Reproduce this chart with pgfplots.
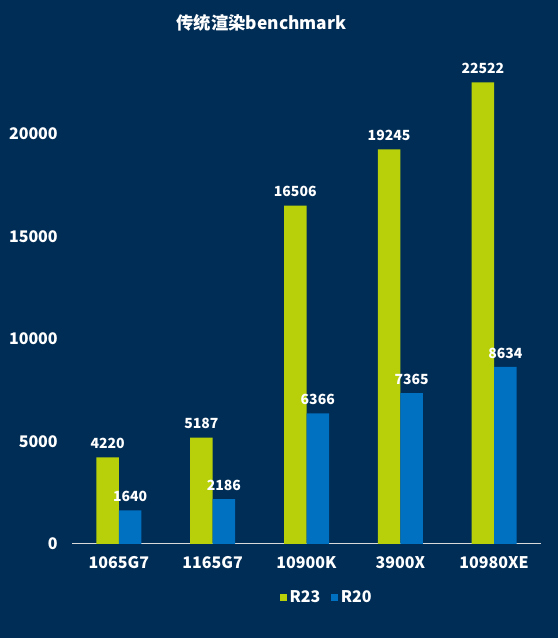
\documentclass[border=0pt]{standalone}
\usepackage{fontspec}
\setmainfont{Noto Sans CJK SC}
\usepackage{pgfplots}
\pgfplotsset{compat=1.18}

\definecolor{bgc}{RGB}{0,45,86}
\definecolor{rgreen}{RGB}{183,208,10}
\definecolor{rblue}{RGB}{0,112,192}
\definecolor{axgray}{RGB}{217,217,217}

\begin{document}
\begin{tikzpicture}
  % 1px = 0.75pt, page 558x638 px
  \path[use as bounding box, fill=bgc] (0,0) rectangle (418.5pt,478.5pt);
  \node[text=white, font=\fontsize{13}{16}\selectfont\bfseries] at (196.1pt,461.25pt) {传统渲染benchmark};
  \begin{axis}[
      at={(54pt,70.5pt)}, anchor=south west,
      scale only axis,
      width=351.75pt, height=369pt,
      xmin=-0.5, xmax=4.5,
      ymin=0, ymax=24000,
      ybar=0pt, bar width=16.875pt,
      axis x line=bottom,
      axis y line=left,
      x axis line style={-, draw=axgray, line width=0.75pt},
      y axis line style={draw=none},
      major tick length=0pt,
      xtick={0,1,2,3,4},
      xticklabels={1065G7,1165G7,10900K,3900X,10980XE},
      ytick={0,5000,10000,15000,20000},
      scaled y ticks=false,
      /pgf/number format/1000 sep={},
      /pgf/number format/assume math mode=true,
      xticklabel style={text=white, font=\fontsize{12}{14}\selectfont\bfseries, anchor=center, inner sep=0pt, yshift=-13.9pt},
      yticklabel style={text=white, font=\fontsize{12}{14}\selectfont\bfseries, anchor=east, inner sep=0pt, xshift=-10.5pt},
      nodes near coords,
      nodes near coords style={text=white, font=\fontsize{10.5}{12}\selectfont\bfseries, anchor=center, inner sep=0pt, yshift=10.5pt},
      clip=false,
      legend style={at={(0.544,-0.108)}, anchor=center, draw=none, fill=none,
        text=white, font=\fontsize{12}{14}\selectfont\bfseries,
        legend columns=2,
        /tikz/every even column/.append style={column sep=6pt}},
      legend image code/.code={\fill[#1] (0pt,-2.6pt) rectangle (5.25pt,2.6pt);},
  ]
  \addplot[fill=rgreen, draw=none] coordinates {
      (0, 4220) (1, 5187) (2, 16506) (3, 19245) (4, 22522)
  };
  \addlegendentry{R23}
  \addplot[fill=rblue, draw=none] coordinates {
      (0, 1640) (1, 2186) (2, 6366) (3, 7365) (4, 8634)
  };
  \addlegendentry{R20}
  \end{axis}
\end{tikzpicture}
\end{document}
